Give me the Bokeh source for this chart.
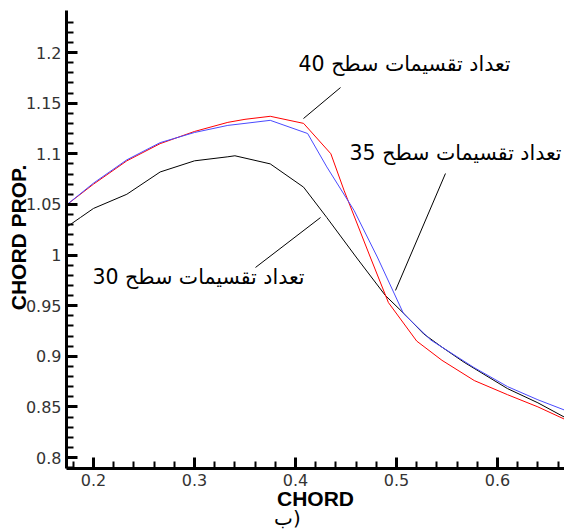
from bokeh.plotting import figure
from bokeh.models import Range1d, FixedTicker, Label
from bokeh.embed import file_html
from bokeh.resources import INLINE
import math

# ---- data ----
x40 = [0.174, 0.2, 0.233, 0.266, 0.3, 0.333, 0.35, 0.375, 0.408, 0.435, 0.448, 0.474, 0.492, 0.52, 0.545, 0.577, 0.61, 0.64, 0.666]
y40 = [1.050, 1.070, 1.093, 1.110, 1.122, 1.131, 1.134, 1.137, 1.130, 1.100, 1.064, 0.998, 0.953, 0.915, 0.896, 0.876, 0.862, 0.850, 0.838]

x35 = [0.174, 0.2, 0.233, 0.266, 0.3, 0.333, 0.35, 0.375, 0.412, 0.431, 0.458, 0.481, 0.507, 0.534, 0.5765, 0.61, 0.64, 0.666]
y35 = [1.050, 1.071, 1.094, 1.111, 1.121, 1.128, 1.130, 1.133, 1.120, 1.087, 1.044, 0.998, 0.942, 0.916, 0.889, 0.870, 0.857, 0.847]

x30 = [0.174, 0.187, 0.2, 0.233, 0.266, 0.3, 0.333, 0.34, 0.375, 0.408, 0.431, 0.46, 0.489, 0.506, 0.527, 0.545, 0.567, 0.61, 0.64, 0.666]
y30 = [1.028, 1.037, 1.046, 1.060, 1.082, 1.093, 1.097, 1.098, 1.090, 1.067, 1.037, 0.998, 0.960, 0.9435, 0.922, 0.909, 0.894, 0.868, 0.854, 0.840]

xtick_vals = [0.2, 0.3, 0.4, 0.5, 0.6]
xtick_labels = ["0.2", "0.3", "0.4", "0.5", "0.6"]
ytick_vals = [0.8, 0.85, 0.9, 0.95, 1.0, 1.05, 1.1, 1.15, 1.2]
ytick_labels = ["0.8", "0.85", "0.9", "0.95", "1", "1.05", "1.1", "1.15", "1.2"]

series_names = ["تعداد تقسیمات سطح 40", "تعداد تقسیمات سطح 35", "تعداد تقسیمات سطح 30"]
x_title = "CHORD"
y_title = "CHORD PROP."
sub_caption = "ب)"

# ---- axes extents ----
AX_X0, AX_X1 = 0.1733, 0.6663      # drawn x-axis extent
AX_Y0, AX_Y1 = 0.7891, 1.241       # drawn y-axis extent

# whole canvas is the frame; axes sit at fixed locations inside it
p = figure(width=564, height=529, output_backend="svg", toolbar_location=None,
           x_range=Range1d(0.10792, 0.66634), y_range=Range1d(0.72889, 1.25136),
           min_border=0, min_border_left=0, min_border_right=0,
           min_border_top=0, min_border_bottom=0)
p.outline_line_color = None
p.grid.visible = False
p.background_fill_color = "white"
p.border_fill_color = "white"

xa, ya = p.xaxis[0], p.yaxis[0]
xa.fixed_location = AX_Y0
ya.fixed_location = AX_X0
xa.bounds = (AX_X0, AX_X1)
ya.bounds = (AX_Y0, AX_Y1)

for ax in (xa, ya):
    ax.axis_line_color = "black"
    ax.axis_line_width = 3
    ax.major_tick_in = 11
    ax.major_tick_out = 0
    ax.minor_tick_in = 7
    ax.minor_tick_out = 0
    ax.major_tick_line_width = 3
    ax.minor_tick_line_width = 2
    ax.major_tick_line_color = "black"
    ax.minor_tick_line_color = "black"
    ax.major_label_text_font = "DejaVu Sans"
    ax.major_label_text_font_size = "16px"
    ax.major_label_text_color = "#333333"
    ax.major_label_standoff = 5

xa.ticker = FixedTicker(ticks=xtick_vals,
                        minor_ticks=[round(0.18 + 0.02 * i, 2) for i in range(25)])
ya.ticker = FixedTicker(ticks=ytick_vals,
                        minor_ticks=[round(0.79 + 0.01 * i, 2) for i in range(45)])
xa.major_label_overrides = dict(zip(xtick_vals, xtick_labels))
ya.major_label_overrides = dict(zip(ytick_vals, ytick_labels))

# curves
p.line(x30, y30, line_color="black", line_width=1)
p.line(x40, y40, line_color="#ff0000", line_width=1)
p.line(x35, y35, line_color="#4a4aff", line_width=1)

# annotation leader lines (annotation positions)
leaders = [([0.4446, 0.4079], [1.1654, 1.1348]),
           ([0.5485, 0.499], [1.0805, 0.965]),
           ([0.3604, 0.4248], [0.9877, 1.037])]
for lx, ly in leaders:
    p.line(lx, ly, line_color="black", line_width=1)

label_pos = [(0.403, 1.189), (0.4535, 1.101), (0.199, 0.9778)]
for (lx, ly), txt in zip(label_pos, series_names):
    p.add_layout(Label(x=lx, y=ly, text=txt, text_font="DejaVu Sans", text_font_size="20.5px",
                       text_align="left", text_baseline="middle", text_color="black"))

p.add_layout(Label(x=0.4198, y=0.7595, text=x_title, text_font="Liberation Sans",
                   text_font_style="bold", text_font_size="21px", text_align="center",
                   text_baseline="middle", text_color="black"))
p.add_layout(Label(x=0.1257, y=1.0173, text=y_title, text_font="Liberation Sans",
                   text_font_style="bold", text_font_size="21px", text_align="center",
                   text_baseline="middle", angle=math.pi / 2, text_color="black"))
p.add_layout(Label(x=0.392, y=0.7405, text=sub_caption, text_font="DejaVu Sans",
                   text_font_size="20px", text_align="center", text_baseline="middle",
                   text_color="black"))

open("out.html", "w").write(file_html(p, INLINE))
